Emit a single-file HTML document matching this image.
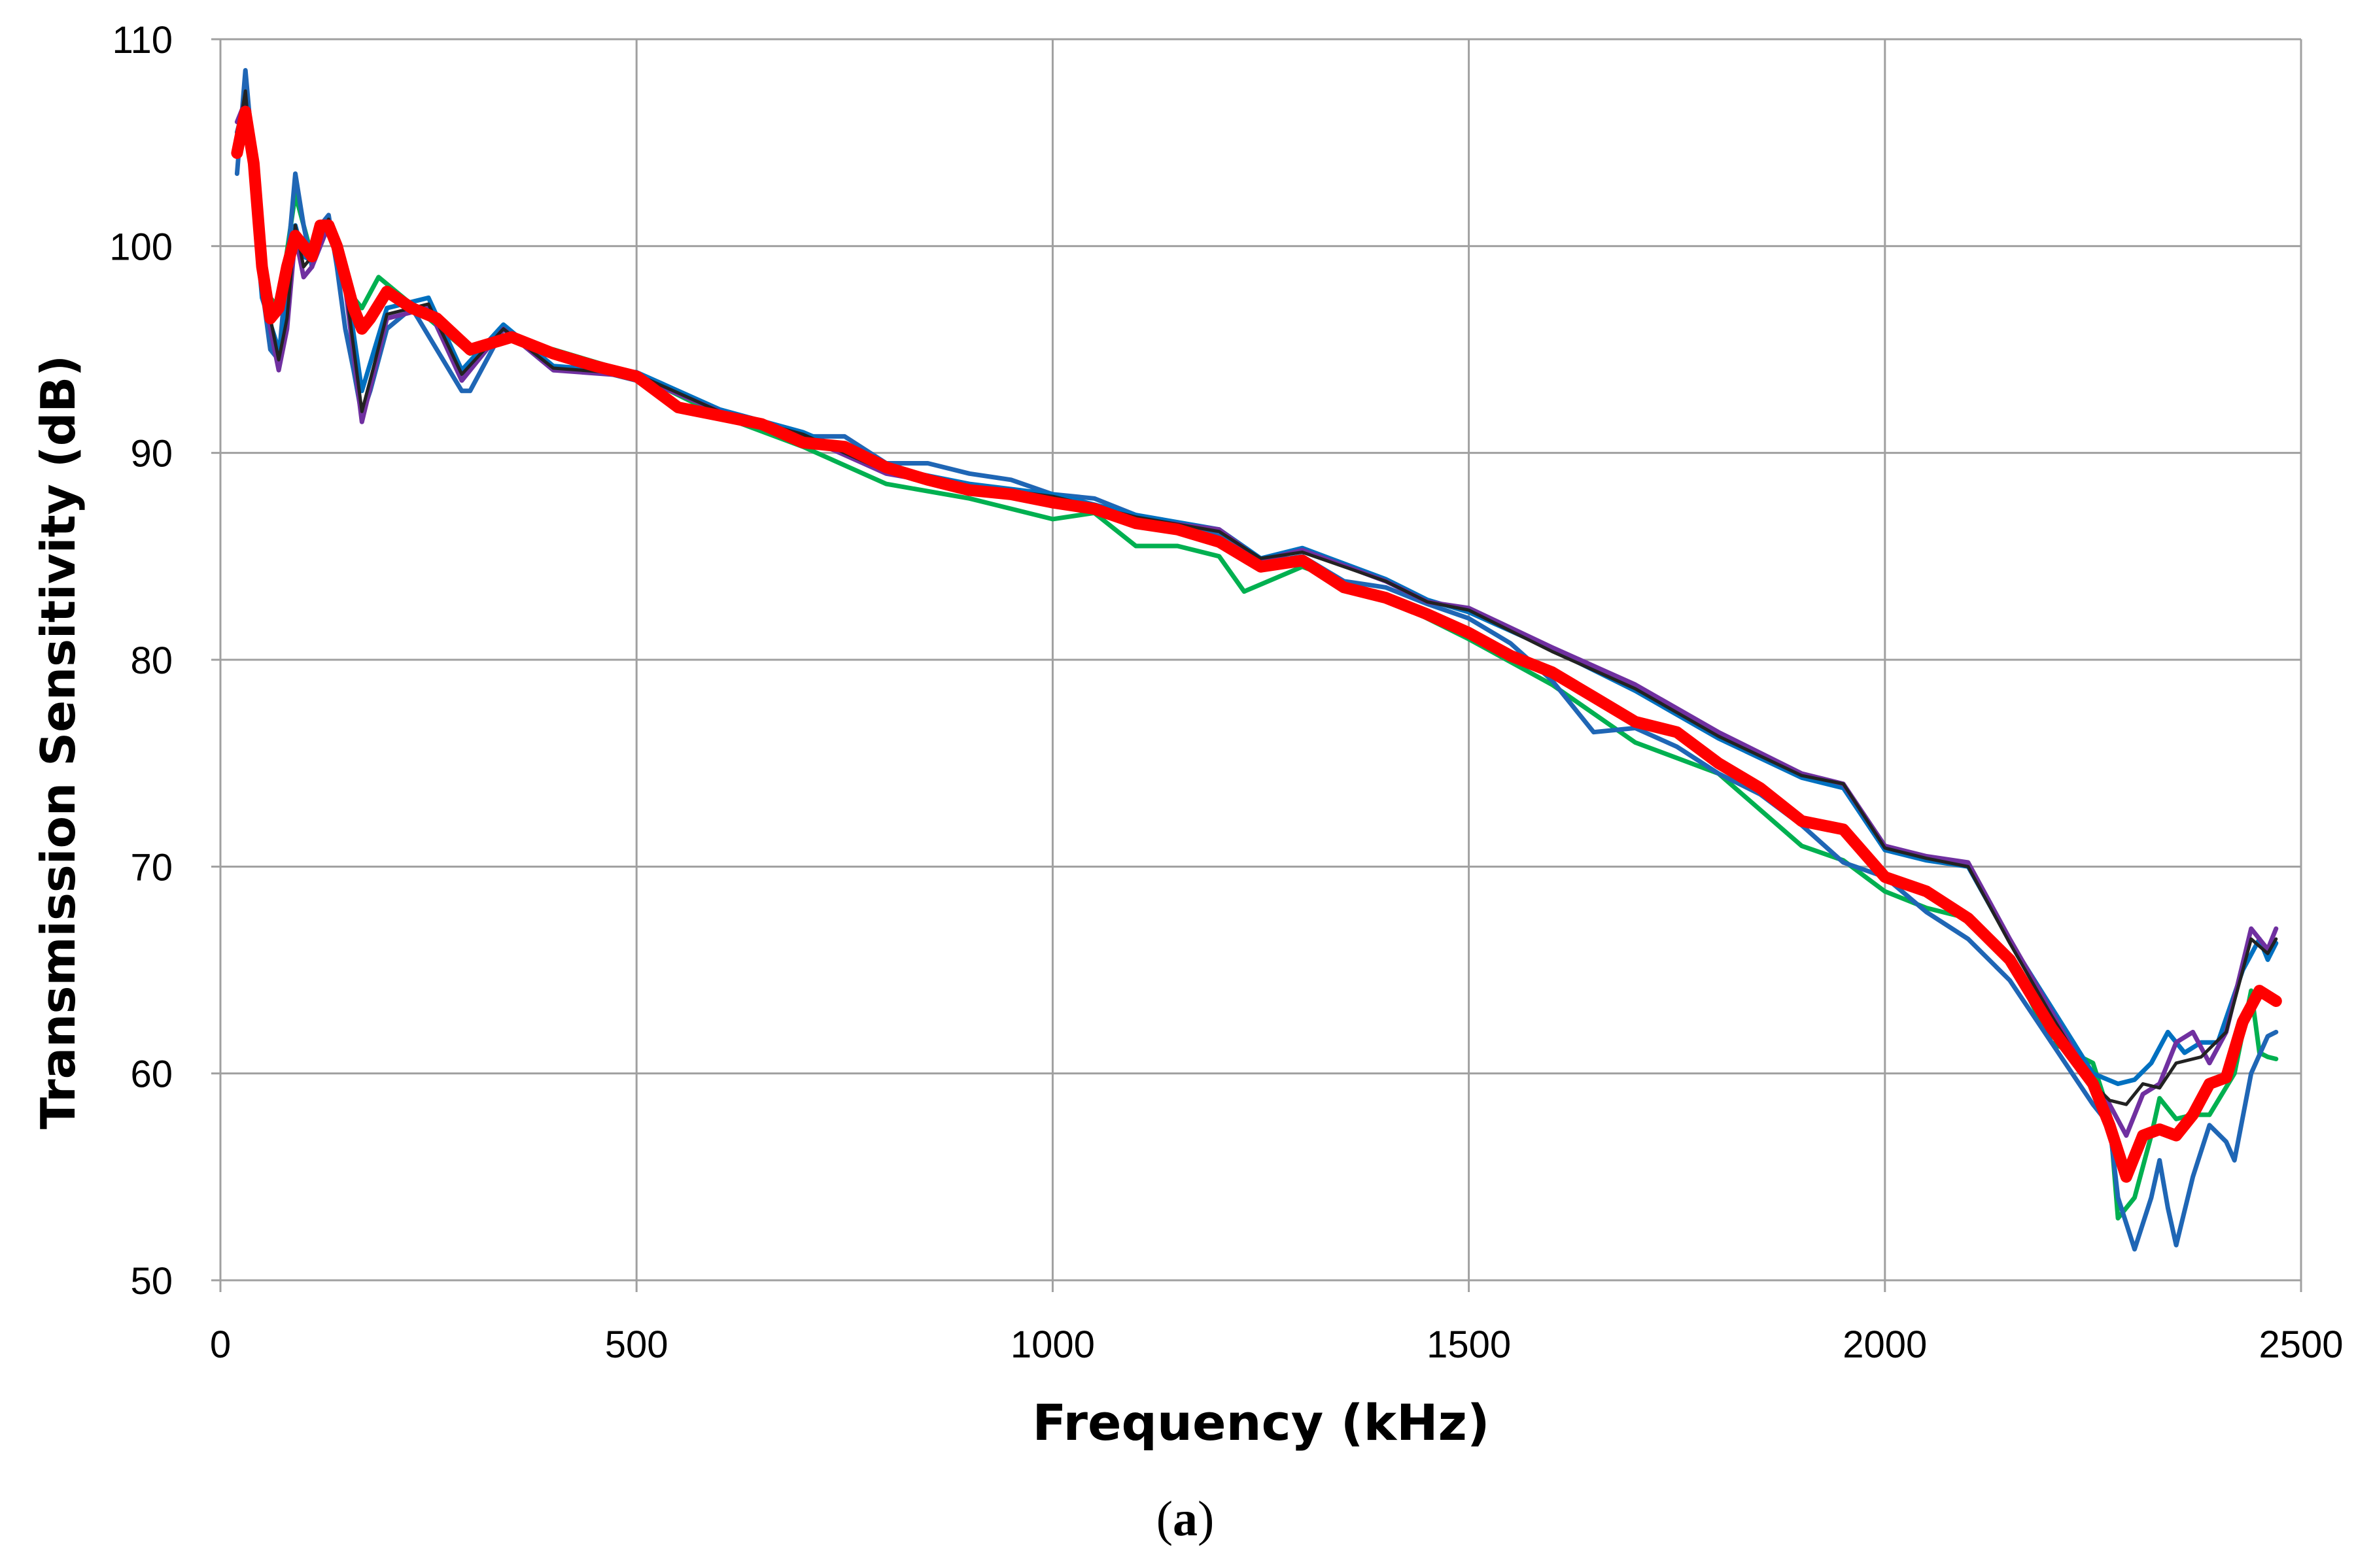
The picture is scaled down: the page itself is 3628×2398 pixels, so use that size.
<!DOCTYPE html>
<html><head><meta charset="utf-8"><style>
html,body{margin:0;padding:0;background:#fff}
svg{display:block}
text{font-family:"DejaVu Sans","Liberation Sans",sans-serif}
</style></head><body>
<svg id="chart" width="3628" height="2398" viewBox="0 0 3628 2398" xmlns="http://www.w3.org/2000/svg">
<g id="grid"></g>
<g id="series"></g>
<g id="ticks"></g>
<text x="1928" y="2202" font-size="76" font-weight="bold" text-anchor="middle">Frequency  (kHz)</text>
<text transform="translate(114,1135) rotate(-90)" font-size="72" font-weight="bold" text-anchor="middle">Transmission Sensitivity  (dB)</text>
<text x="1812" y="2348" font-size="76" text-anchor="middle" style="font-family:'Liberation Serif',serif">(<tspan font-weight="bold">a</tspan>)</text>
</svg>
<script>
const xTicks=[0,500,1000,1500,2000,2500];
const yTicks=[50,60,70,80,90,100,110];
const redF=[20,30,40,50,60,70,80,90,100,110,120,130,140,150,160,170,180,200,230,260,300,350,400,450,500,550,600,650,700,750,800,850,900,950,1000,1050,1100,1150,1200,1250,1300,1350,1400,1450,1500,1550,1600,1650,1700,1750,1800,1850,1900,1950,2000,2050,2100,2150,2200,2250,2270,2290,2310,2330,2350,2370,2390,2410,2430,2450,2470];
const redV=[104.5,106.5,104,99,96.5,97,99,100.5,100,99.5,101,101,100,98.5,97,96,96.5,97.8,97,96.5,95,95.6,94.8,94.2,93.7,92.2,91.8,91.4,90.5,90.3,89.3,88.7,88.2,88,87.6,87.3,86.6,86.3,85.7,84.5,84.8,83.5,83,82.2,81.3,80.2,79.4,78.2,77,76.5,75,73.8,72.2,71.8,69.5,68.8,67.5,65.5,62.2,59.5,57.5,55,57,57.3,57,58,59.5,59.8,62.5,64,63.5];
const blueF=[20,30,40,50,60,70,80,90,100,110,120,130,140,150,160,170,180,200,230,260,290,300,340,400,450,500,550,600,650,700,750,800,850,900,950,1000,1050,1100,1150,1200,1250,1300,1350,1400,1450,1500,1550,1600,1650,1700,1750,1800,1850,1900,1950,2000,2050,2100,2150,2200,2250,2270,2280,2300,2320,2330,2340,2350,2370,2390,2410,2420,2440,2460,2470];
const blueV=[103.5,108.5,104,98,95,94.5,99,103.5,101,99,101,101.5,99,96,94,91.8,93,96,97,95,93,93,96,94,94,93.5,92.3,91.8,91.2,90.8,90.8,89.5,89.5,89,88.7,88,87.8,87,86.5,86,84.7,85,83.8,83.5,82.7,82,80.8,79,76.5,76.7,75.8,74.5,73.5,72,70.2,69.5,67.8,66.5,64.5,61.5,58.5,57.5,54,51.5,54,55.8,53.5,51.7,55,57.5,56.7,55.8,60,61.8,62];
const purpleF=[20,30,50,70,80,90,100,110,130,150,170,185,200,250,290,340,400,500,600,700,800,900,1000,1100,1200,1250,1300,1400,1450,1500,1600,1700,1800,1900,1950,2000,2050,2100,2150,2200,2250,2270,2290,2310,2330,2350,2370,2390,2410,2440,2460,2470];
const purpleV=[106,107,98,94,96,100.5,98.5,99,101,98,91.5,94,96.5,97,93.5,96,94,93.7,92,90.8,89,88.3,87.8,86.8,86.3,84.8,85.3,83.8,82.8,82.5,80.6,78.8,76.5,74.5,74,71,70.5,70.2,66.5,63,59.5,58.5,57,59,59.5,61.5,62,60.5,62,67,66,67];
const blackF=[20,30,50,70,80,90,100,110,130,150,170,185,200,250,290,340,400,500,600,700,800,900,1000,1100,1200,1250,1300,1400,1450,1500,1600,1700,1800,1900,1950,2000,2050,2100,2150,2200,2250,2270,2290,2310,2330,2350,2380,2410,2440,2460,2470];
const blackV=[105,107.5,98.5,94.5,96.5,101,99,99.5,101.3,98.2,92,94.3,96.7,97.2,93.8,96,94.1,93.8,92,90.9,89.1,88.4,87.9,86.9,86.2,84.9,85.2,83.8,82.8,82.4,80.4,78.6,76.3,74.4,74,70.9,70.4,70,66.3,62.8,59.5,58.7,58.5,59.5,59.3,60.5,60.8,62,66.5,65.8,66.5];
const blue2F=[20,30,50,70,80,90,100,110,130,150,170,185,200,250,290,340,400,500,600,700,800,900,1000,1100,1200,1250,1300,1400,1450,1500,1600,1700,1800,1900,1950,2000,2050,2100,2150,2200,2250,2280,2300,2320,2340,2360,2380,2400,2430,2450,2460,2470];
const blue2V=[105.5,107,97.5,95,97,101,99.5,99.3,101,98.5,93,95,97,97.5,94,96.2,94.2,93.9,92.1,91,89.3,88.5,88,87,86.3,84.9,85.4,83.9,82.9,82.3,80.5,78.5,76.2,74.3,73.8,70.8,70.3,70,66.4,63.2,60,59.5,59.7,60.5,62,61,61.5,61.5,65,66.5,65.5,66.3];
const greenF=[20,30,50,70,90,110,130,150,170,190,250,300,350,400,500,600,700,800,900,1000,1050,1100,1150,1200,1230,1300,1400,1450,1500,1600,1700,1800,1900,1950,2000,2050,2100,2150,2200,2250,2270,2280,2300,2320,2330,2350,2370,2390,2420,2440,2450,2460,2470];
const greenV=[105,107,98,97,102.5,99.5,101,98,97,98.5,96.5,94.8,95.5,95,93.8,91.8,90.3,88.5,87.8,86.8,87.1,85.5,85.5,85,83.3,84.5,83,82,81,78.8,76,74.5,71,70.3,68.8,68,67.5,65.5,61.5,60.5,58,53,54,57,58.8,57.8,58,58,60,64,61,60.8,60.7];

const X0=337,X1=3518,Y0=1958,Y1=60;
function xs(f){return X0+(f-0)/(2500-0)*(X1-X0);}
function ys(v){return Y0-(v-50)/(110-50)*(Y0-Y1);}
const NS="http://www.w3.org/2000/svg";
const grid=document.getElementById('grid'),ticks=document.getElementById('ticks'),ser=document.getElementById('series');
function mk(tag,attrs,parent){const e=document.createElementNS(NS,tag);for(const k in attrs)e.setAttribute(k,attrs[k]);parent.appendChild(e);return e;}
xTicks.forEach(t=>{
  const l=mk('line',{x1:xs(t),x2:xs(t),y1:Y1,y2:Y0+18,stroke:'#a0a0a0','stroke-width':3},grid);
  
  
  const tx=mk('text',{x:xs(t),y:2076,'font-size':58,'text-anchor':'middle',style:'font-family:"Liberation Sans",sans-serif'},ticks);
  tx.textContent=t;
  
  
});
yTicks.forEach(t=>{
  const l=mk('line',{x1:X0-14,x2:X1,y1:ys(t),y2:ys(t),stroke:'#a0a0a0','stroke-width':3},grid);
  
  
  const tx=mk('text',{x:264,y:ys(t)+21,'font-size':58,'text-anchor':'end',style:'font-family:"Liberation Sans",sans-serif'},ticks);
  tx.textContent=t;
  
  
});
function draw(F,V,color,w,name){
  const pts=F.map((f,i)=>xs(f).toFixed(1)+','+ys(V[i]).toFixed(1)).join(' ');
  const p=mk('polyline',{points:pts,fill:'none',stroke:color,'stroke-width':w,'stroke-linejoin':'round','stroke-linecap':'round'},ser);
  
  
}
draw(greenF,greenV,'#00b050',7,'series-green');
draw(blueF,blueV,'#1f66b5',7,'series-blue');
draw(blue2F,blue2V,'#0070c0',7,'series-blue-2');
draw(purpleF,purpleV,'#7030a0',7,'series-purple');
draw(blackF,blackV,'#222222',5,'series-black');
draw(redF,redV,'#ff0000',18,'series-red-mean');
</script>
</body></html>
